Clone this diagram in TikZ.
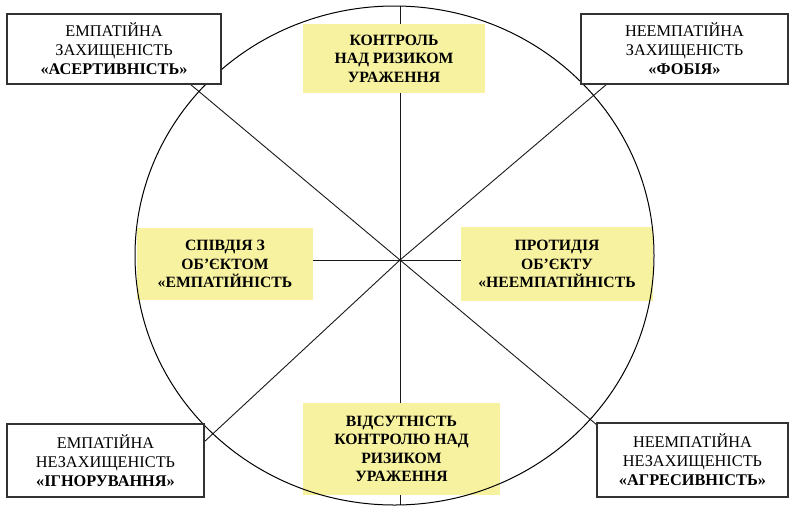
\documentclass[tikz,border=0pt]{standalone}
\usepackage{fontspec}
\setmainfont{Liberation Serif}
\definecolor{paleyellow}{RGB}{247,242,160}
\definecolor{frame}{RGB}{50,50,50}
\begin{document}
\begin{tikzpicture}[x=1pt,y=-1pt,
  outerbox/.style={draw=frame,line width=1.4pt,fill=white,inner sep=0pt,align=center,
    font=\fontsize{16.3}{19}\selectfont},
  innerbox/.style={fill=paleyellow,inner sep=0pt,align=center,
    font=\fontsize{15.7}{18.5}\selectfont\bfseries},
  radial/.style={line width=0.9pt,black!90}]
\useasboundingbox (0,0) rectangle (790,507);
% radial lines
\coordinate (c) at (400,260);
\coordinate (ctop) at (400,6);
\coordinate (cbot) at (400,505);
\coordinate (etl) at (190,84);
\coordinate (etr) at (607,84);
\coordinate (ebl) at (204,442);
\coordinate (ebr) at (597,425);
\coordinate (eleft) at (313,260);
\coordinate (eright) at (461,260);
\draw[radial] (ctop) -- (cbot);
\draw[radial] (eleft) -- (eright);
\draw[radial] (c) -- (etl);
\draw[radial] (c) -- (etr);
\draw[radial] (c) -- (ebl);
\draw[radial] (c) -- (ebr);
% yellow boxes
\node[innerbox,minimum width=182pt,minimum height=69pt] (top) at (394,58.5)
  {КОНТРОЛЬ\\НАД РИЗИКОМ\\УРАЖЕННЯ};
\node[innerbox,minimum width=197pt,minimum height=92pt] (bot) at (401.5,449)
  {ВІДСУТНІСТЬ\\КОНТРОЛЮ НАД\\РИЗИКОМ\\УРАЖЕННЯ};
\node[innerbox,minimum width=176pt,minimum height=72pt] (left) at (225,264)
  {СПІВДІЯ З\\ОБ’ЄКТОМ\\«ЕМПАТІЙНІСТЬ};
\node[innerbox,minimum width=192pt,minimum height=74pt] (right) at (557,264)
  {ПРОТИДІЯ\\ОБ’ЄКТУ\\«НЕЕМПАТІЙНІСТЬ};
% circle
\draw[line width=1pt] (394.5,255.5) ellipse [x radius=259.5, y radius=249.5];
% outer boxes
\node[outerbox,minimum width=214pt,minimum height=70pt] (tl) at (114,49)
  {ЕМПАТІЙНА\\ЗАХИЩЕНІСТЬ\\\textbf{«АСЕРТИВНІСТЬ»}};
\node[outerbox,minimum width=207pt,minimum height=70pt] (tr) at (684.5,49)
  {НЕЕМПАТІЙНА\\ЗАХИЩЕНІСТЬ\\\textbf{«ФОБІЯ»}};
\node[outerbox,minimum width=197pt,minimum height=73pt] (bl) at (105.5,460.5)
  {ЕМПАТІЙНА\\НЕЗАХИЩЕНІСТЬ\\\textbf{«ІГНОРУВАННЯ»}};
\node[outerbox,minimum width=191pt,minimum height=74pt] (br) at (692.5,460)
  {НЕЕМПАТІЙНА\\НЕЗАХИЩЕНІСТЬ\\\textbf{«АГРЕСИВНІСТЬ»}};
\end{tikzpicture}
\end{document}
